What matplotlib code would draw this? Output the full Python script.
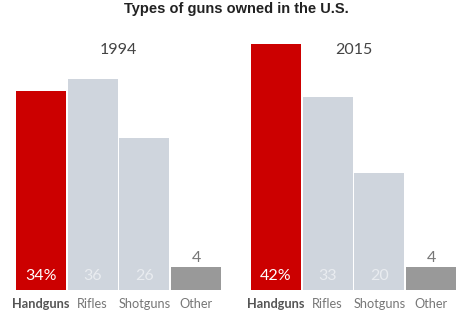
import matplotlib
matplotlib.use("Agg")
import matplotlib.pyplot as plt

categories = ["Handguns", "Rifles", "Shotguns", "Other"]
years = ["1994", "2015"]
values_1994 = [34, 36, 26, 4]
values_2015 = [42, 33, 20, 4]
value_labels_1994 = ["34%", "36", "26", "4"]
value_labels_2015 = ["42%", "33", "20", "4"]

W, H = 463, 325
fig = plt.figure(figsize=(W / 100, H / 100), dpi=100)
fig.patch.set_facecolor("white")

bar_colors = ["#cc0000", "#cfd5dd", "#cfd5dd", "#999999"]
text_colors = ["#ffffff", "#e9ecf0", "#e9ecf0", "#777777"]

fig.text(236 / W, 1 - 9 / H, "Types of guns owned in the U.S.", ha="center", va="center",
         fontsize=10.5, fontweight="bold", color="#222222", family="Liberation Sans")

ymax = 42.5
base_px = 290
scale = 5.86
top_px = base_px - ymax * scale

panels = [(15, 222, years[0], values_1994, value_labels_1994),
          (250, 457, years[1], values_2015, value_labels_2015)]

for x0, x1, year, vals, labs in panels:
    ax = fig.add_axes([x0 / W, (H - base_px) / H, (x1 - x0) / W, (base_px - top_px) / H])
    ax.set_xlim(-0.5, 3.5)
    ax.set_ylim(0, ymax)
    ax.axis("off")
    xs = range(len(categories))
    ax.bar(xs, vals, width=0.965, color=bar_colors, zorder=1)
    for i, (v, lab) in enumerate(zip(vals, labs)):
        if categories[i] == "Other":
            ax.text(i, v + 1.5, lab, ha="center", va="center", fontsize=11.5,
                    color="#777777", family="Lato", zorder=5)
        else:
            ax.text(i, 2.4, lab, ha="center", va="center", fontsize=11.5,
                    color=text_colors[i], family="Lato", zorder=5)
    for i, c in enumerate(categories):
        ax.text(i, -2.4, c, ha="center", va="center", fontsize=9.2,
                fontweight="bold" if i == 0 else "normal",
                color="#555555" if i == 0 else "#777777", family="Lato",
                clip_on=False)
    ax.text(1.5, ymax - (50 - top_px) / scale, year, ha="center", va="center",
            fontsize=11.5, color="#444444", family="Lato")

fig.savefig("out.png", dpi=100, facecolor="white")
